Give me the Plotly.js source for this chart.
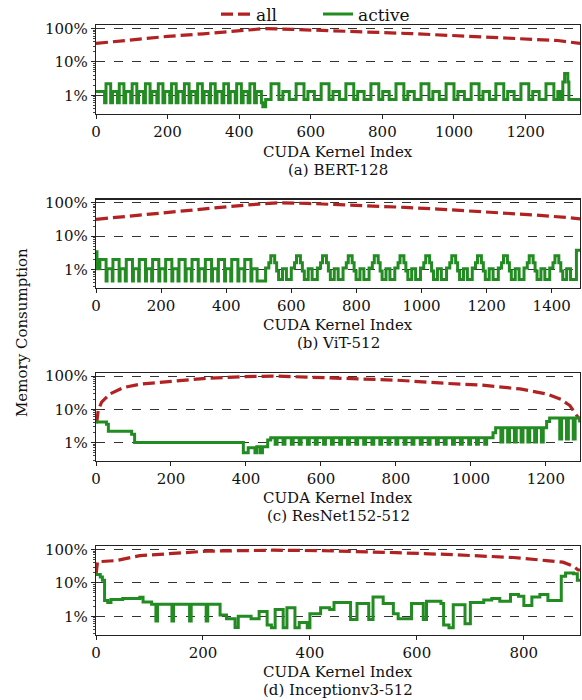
<!DOCTYPE html>
<html><head><meta charset="utf-8">
<script src="https://cdn.plot.ly/plotly-3.0.1.min.js"></script>
<style>html,body{margin:0;padding:0;background:#fff}#chart{width:582px;height:700px}</style>
</head><body><div id="chart"></div>
<script>
// ---------- data (fractions of memory; 0.01 = 1%) ----------
const bertAllX = [0,100,200,300,400,470,550,650,774,880,983,1090,1190,1290,1352];
const bertAllY = [0.36,0.46,0.585,0.70,0.85,1.0,0.95,0.88,0.79,0.71,0.63,0.56,0.50,0.44,0.36];
const bertActiveX = [0,24,28,41,46,60,65,78,83,97,101,114,119,133,138,151,156,170,174,187,192,206,211,224,229,243,247,260,265,279,284,297,302,316,320,333,338,352,357,370,375,389,393,406,411,425,430,443,448,462,466,474,
489,511,522,540,559,581,592,610,629,651,662,680,698,720,731,749,768,790,801,819,838,860,871,889,908,930,941,959,978,1000,1011,1029,1048,1070,1081,1099,1117,1139,1150,1168,1187,1209,1220,1238,1257,1279,1290,1298,1304,1309,1318,1321,1352];
const bertActiveY = [0.013,0.006,
0.022,0.006,0.013,0.006, 0.022,0.006,0.013,0.006, 0.022,0.006,0.013,0.006, 0.022,0.006,0.013,0.006,
0.022,0.006,0.013,0.006, 0.022,0.006,0.013,0.006, 0.022,0.006,0.013,0.006, 0.022,0.006,0.013,0.006,
0.022,0.006,0.013,0.006, 0.022,0.006,0.013,0.006, 0.022,0.006,0.013,0.006, 0.022,0.006,0.013,0.006,
0.0045,0.0075,
0.022,0.0075,0.013,0.0075, 0.022,0.0075,0.013,0.0075, 0.022,0.0075,0.013,0.0075, 0.022,0.0075,0.013,0.0075,
0.022,0.0075,0.013,0.0075, 0.022,0.0075,0.013,0.0075, 0.022,0.0075,0.013,0.0075, 0.022,0.0075,0.013,0.0075,
0.022,0.0075,0.013,0.0075, 0.022,0.0075,0.013,0.0075, 0.022,0.0075,0.013,0.0075,
0.022,0.0075,0.013,0.0075,0.025,0.045,0.025,0.0075,0.0075];

const vitAllX = [0,100,200,300,400,500,560,650,750,850,950,1050,1150,1250,1350,1450,1487];
const vitAllY = [0.32,0.40,0.50,0.62,0.76,0.92,1.0,0.96,0.89,0.81,0.73,0.65,0.57,0.50,0.43,0.36,0.33];
const vitActiveX = [0,3,
12,31,34,50, 52,71,74,90, 93,112,115,131, 133,152,155,171, 174,193,196,212, 214,233,236,252,
255,274,277,293, 295,314,317,333, 336,355,358,374, 376,395,398,414, 417,436,439,455, 457,476,479,495,
521,531,537,549,555,561,573,585, 600,610,616,628,634,640,652,664, 680,690,696,708,714,720,732,744,
759,769,775,787,793,799,811,823, 839,849,855,867,873,879,891,903, 918,928,934,946,952,958,970,982,
997,1007,1013,1025,1031,1037,1049,1061, 1077,1087,1093,1105,1111,1117,1129,1141, 1156,1166,1172,1184,1190,1196,1208,1220,
1236,1246,1252,1264,1270,1276,1288,1300, 1315,1325,1331,1343,1349,1355,1367,1379, 1394,1404,1410,1422,1428,1434,1446,1458,
1476,1488];
const vitActiveY = [0.034,0.0105,
0.02,0.0045,0.0105,0.0045, 0.02,0.0045,0.0105,0.0045, 0.02,0.0045,0.0105,0.0045, 0.02,0.0045,0.0105,0.0045,
0.02,0.0045,0.0105,0.0045, 0.02,0.0045,0.0105,0.0045, 0.02,0.0045,0.0105,0.0045, 0.02,0.0045,0.0105,0.0045,
0.02,0.0045,0.0105,0.0045, 0.02,0.0045,0.0105,0.0045, 0.02,0.0045,0.0105,0.0045, 0.02,0.0045,0.0105,0.0045,
0.011,0.016,0.026,0.016,0.009,0.005,0.0105,0.005, 0.011,0.016,0.026,0.016,0.009,0.005,0.0105,0.005,
0.011,0.016,0.026,0.016,0.009,0.005,0.0105,0.005, 0.011,0.016,0.026,0.016,0.009,0.005,0.0105,0.005,
0.011,0.016,0.026,0.016,0.009,0.005,0.0105,0.005, 0.011,0.016,0.026,0.016,0.009,0.005,0.0105,0.005,
0.011,0.016,0.026,0.016,0.009,0.005,0.0105,0.005, 0.011,0.016,0.026,0.016,0.009,0.005,0.0105,0.005,
0.011,0.016,0.026,0.016,0.009,0.005,0.0105,0.005, 0.011,0.016,0.026,0.016,0.009,0.005,0.0105,0.005,
0.011,0.016,0.026,0.016,0.009,0.005,0.0105,0.005, 0.011,0.016,0.026,0.016,0.009,0.005,0.0105,0.005,
0.038,0.038];

const resAllX = [0,2,6,15,37,73,117,206,295,384,473,562,651,802,935,1024,1131,1202,1240,1264,1282,1290];
const resAllY = [0.04,0.042,0.095,0.165,0.29,0.45,0.57,0.71,0.855,0.95,1.0,0.93,0.87,0.75,0.60,0.54,0.41,0.29,0.20,0.13,0.066,0.05];
const resActiveX = [0,28,33,95,103,393,406,424,429,438,444,458,466,
478,483,499,504,521,526,542,547,564,569,585,590,607,612,628,633,650,655,671,676,693,698,714,719,736,741,757,762,779,784,800,805,822,827,843,848,865,870,886,891,908,913,929,934,951,956,972,977,994,999,1015,1020,1037,1042,
1059,1066,1080,1085,1098,1103,1116,1121,1134,1139,1152,1157,1170,1175,1188,1193,1202,1210,1237,1242,1255,1260,1273,1278,1290];
const resActiveY = [0.042,0.036,0.022,0.018,0.0102,0.005,0.007,0.005,0.0075,0.005,0.0075,0.012,0.014,
0.009,0.014,0.009,0.014,0.009,0.014,0.009,0.014,0.009,0.014,0.009,0.014,0.009,0.014,0.009,0.014,0.009,0.014,
0.009,0.014,0.009,0.014,0.009,0.014,0.009,0.014,0.009,0.014,0.009,0.014,0.009,0.014,0.009,0.014,0.009,0.014,
0.009,0.014,0.009,0.014,0.009,0.014,0.009,0.014,0.009,0.014,0.009,0.014,0.009,0.014,0.009,0.014,0.009,0.014,
0.02,0.028,0.0105,0.028,0.0105,0.028,0.0105,0.028,0.0105,0.028,0.0105,0.028,0.0105,0.028,0.0105,0.028,
0.043,0.055,0.013,0.055,0.013,0.055,0.013,0.055,0.04];

const incAllX = [0,1,3,10,38,82,144,207,269,331,424,500,562,655,718,780,842,873,892,901,905];
const incAllY = [0.18,0.30,0.44,0.44,0.47,0.66,0.77,0.90,0.93,0.96,0.93,0.88,0.81,0.72,0.66,0.58,0.47,0.42,0.32,0.25,0.24];
const incActiveX = [0,8,12,16,22,28,50,82,88,104,112,115,142,145,175,178,206,209,232,244,260,266,290,305,320,328,335,350,357,372,380,395,400,420,437,445,476,488,510,518,537,556,565,590,612,618,645,650,660,668,690,700,725,740,755,775,790,800,815,830,845,870,878,893,900,905];
const incActiveY = [0.18,0.15,0.12,0.03,0.026,0.032,0.034,0.037,0.027,0.023,0.0072,0.023,0.0072,0.023,0.0072,0.023,0.0072,0.023,0.011,0.0085,0.0046,0.01,0.0085,0.014,0.0055,0.0045,0.016,0.0045,0.018,0.0045,0.0065,0.0045,0.012,0.018,0.016,0.026,0.008,0.024,0.008,0.038,0.024,0.012,0.0085,0.024,0.008,0.028,0.024,0.0055,0.0045,0.022,0.006,0.026,0.031,0.034,0.028,0.045,0.04,0.021,0.038,0.045,0.03,0.16,0.2,0.19,0.12,0.12];

const xMax = [1352, 1487, 1291, 905];
const captions = ['(a) BERT-128', '(b) ViT-512', '(c) ResNet152-512', '(d) Inceptionv3-512'];
const xTitle = 'CUDA Kernel Index';
const yTitle = 'Memory Consumption';
const legendNames = ['all', 'active'];

// ---------- build ----------
const RED = '#b22222', GREEN = '#228b22';
const FONT = 'DejaVu Serif';
const sets = [
  [bertAllX, bertAllY, bertActiveX, bertActiveY],
  [vitAllX, vitAllY, vitActiveX, vitActiveY],
  [resAllX, resAllY, resActiveX, resActiveY],
  [incAllX, incAllY, incActiveX, incActiveY]
];
const W = 582, H = 700;
const tops = [25.3, 199.5, 372.7, 546.3];
const plotH = 88.3;
const traces = [];
const layout = {
  width: W, height: H,
  margin: {l: 0, r: 0, t: 0, b: 0, autoexpand: false},
  paper_bgcolor: '#fff', plot_bgcolor: '#fff',
  font: {family: FONT, size: 15, color: '#111'},
  showlegend: true,
  legend: {orientation: 'h', xref: 'container', yref: 'container', x: 216 / W, xanchor: 'left',
           y: 1 - 14.5 / H, yanchor: 'middle',
           font: {family: FONT, size: 17, color: '#111'}, bgcolor: 'rgba(0,0,0,0)', itemwidth: 30,
           entrywidth: 57, entrywidthmode: 'pixels'},
  annotations: []
};
sets.forEach((s, i) => {
  const n = i === 0 ? '' : String(i + 1);
  const xa = 'x' + n, ya = 'y' + n;
  traces.push({x: s[0], y: s[1], xaxis: xa, yaxis: ya, type: 'scatter', mode: 'lines', name: legendNames[0],
    showlegend: i === 0, line: {color: RED, width: 3.2, dash: '12px,5px'}, hoverinfo: 'skip'});
  traces.push({x: s[2], y: s[3], xaxis: xa, yaxis: ya, type: 'scatter', mode: 'lines', name: legendNames[1],
    showlegend: i === 0, line: {color: GREEN, width: 3, shape: 'hv'}, hoverinfo: 'skip'});
  const t = tops[i];
  layout['xaxis' + n] = {
    domain: [96 / W, 580 / W], anchor: ya, range: [0, xMax[i]], dtick: 200,
    ticks: 'outside', ticklen: 4, tickwidth: 1, tickcolor: '#222',
    showline: true, mirror: true, linecolor: '#222', linewidth: 1.2,
    showgrid: false, zeroline: false, tickfont: {family: FONT, size: 15, color: '#111'}
  };
  layout['yaxis' + n] = {
    domain: [1 - (t + plotH) / H, 1 - t / H], anchor: xa, type: 'log', range: [-2.55, 0.1],
    dtick: 1, tickformat: '.0%', ticks: 'outside', ticklen: 4, tickwidth: 1, tickcolor: '#222',
    minor: {ticks: 'outside', ticklen: 2, tickcolor: '#444', dtick: 'D1', showgrid: false},
    showline: true, mirror: true, linecolor: '#222', linewidth: 1.2,
    showgrid: true, gridcolor: '#000', griddash: 'dash', gridwidth: 0.8, zeroline: false,
    tickfont: {family: FONT, size: 15, color: '#111'}
  };
  layout.annotations.push({xref: 'paper', yref: 'paper', x: 338 / W, y: 1 - (152 + 173.2 * i) / H,
    xanchor: 'center', yanchor: 'middle', showarrow: false, text: xTitle, font: {family: FONT, size: 15, color: '#111'}});
  layout.annotations.push({xref: 'paper', yref: 'paper', x: 338 / W, y: 1 - (170 + 173.2 * i) / H,
    xanchor: 'center', yanchor: 'middle', showarrow: false, text: captions[i], font: {family: FONT, size: 15, color: '#111'}});
});
layout.annotations.push({xref: 'paper', yref: 'paper', x: 22 / W, y: 1 - 333 / H, xanchor: 'center', yanchor: 'middle',
  showarrow: false, textangle: -90, text: yTitle, font: {family: FONT, size: 15, color: '#111'}});

Plotly.newPlot('chart', traces, layout, {staticPlot: true, displayModeBar: false});
</script></body></html>
